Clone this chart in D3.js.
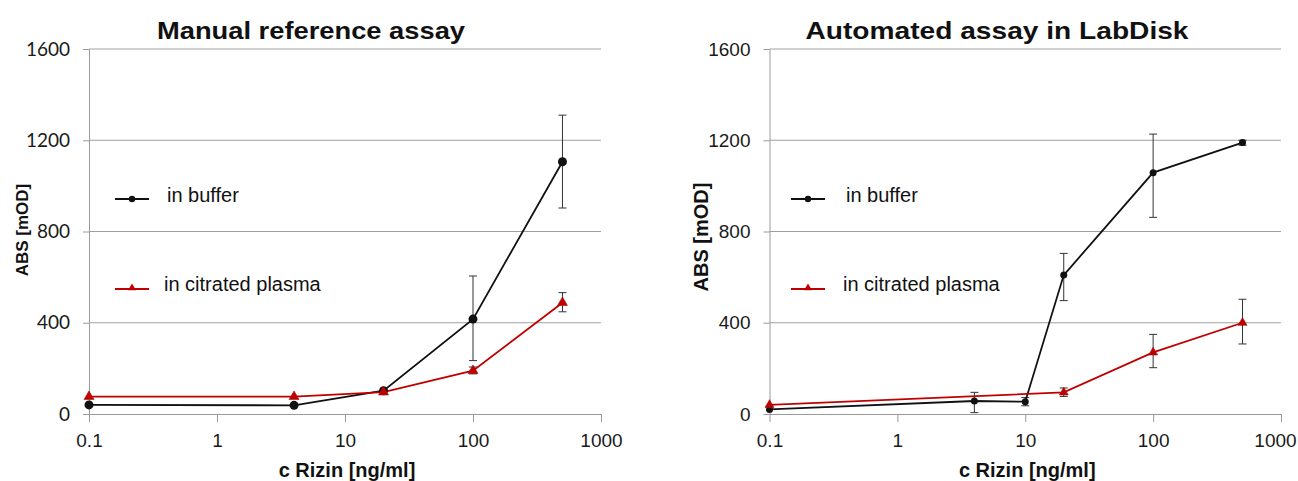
<!DOCTYPE html>
<html lang="en">
  <head>
    <meta charset="UTF-8" />
    <title>Rizin assay: manual vs LabDisk</title>
    <script src="https://d3js.org/d3.v7.min.js"></script>
    <style>
      body {
        margin: 0;
        padding: 0;
        background: #ffffff;
        font-family: "Liberation Sans", Arial, sans-serif;
      }
      svg {
        display: block;
      }
      .axis path,
      .axis line {
        stroke: #9a9a9a;
      }
    </style>
  </head>
  <body>
    <div id="chart"></div>
    <script>
      const width = 1298;
      const height = 481;

      // decade ticks / y ticks
      const xTicks = [0.1, 1, 10, 100, 1000];
      const yTicks = [0, 400, 800, 1200, 1600];

      // Manual reference assay
      const manualX = [0.1, 4, 20, 100, 500];
      const manualBuffer = [40, 38, 102, 416, 1106];
      const manualBufferLow = [null, null, null, 234, 903];
      const manualBufferHigh = [null, null, null, 605, 1310];
      const manualPlasma = [76, 76, 96, 190, 488];
      const manualPlasmaLow = [null, null, null, 176, 448];
      const manualPlasmaHigh = [null, null, null, 206, 532];

      // Automated assay in LabDisk
      const diskBufferX = [0.1, 4, 10, 20, 100, 500];
      const diskBuffer = [20, 57, 54, 609, 1058, 1190];
      const diskBufferLow = [null, 6, 36, 497, 862, 1178];
      const diskBufferHigh = [null, 95, 72, 704, 1227, 1200];
      const diskPlasmaX = [0.1, 20, 100, 500];
      const diskPlasma = [40, 95, 270, 400];
      const diskPlasmaLow = [null, 77, 203, 307];
      const diskPlasmaHigh = [null, 114, 349, 503];

      const red = "#c00000";

      function zip(xs, ys, lo, hi) {
        return xs.map((x, i) => ({ x: x, y: ys[i], lo: lo[i], hi: hi[i] }));
      }

      const panels = [
        {
          title: "Manual reference assay",
          titleX: 311,
          titleLen: 308,
          x0: 89,
          x1: 601,
          yTickFont: "Lato, sans-serif",
          yTickSize: 19,
          xTickSize: 19,
          yLabelSize: 17,
          yLabelX: 28,
          yLabelY: 230,
          legendX: 115,
          legendTextX: 167,
          circleR: 4.5,
          triSide: 10,
          lastTickShift: 0,
          buffer: zip(manualX, manualBuffer, manualBufferLow, manualBufferHigh),
          plasma: zip(manualX, manualPlasma, manualPlasmaLow, manualPlasmaHigh),
        },
        {
          title: "Automated assay in LabDisk",
          titleX: 997,
          titleLen: 383,
          x0: 769.5,
          x1: 1281,
          yTickFont: "'Liberation Sans', Arial, sans-serif",
          yTickSize: 19,
          xTickSize: 19,
          yLabelSize: 20,
          yLabelX: 708,
          yLabelY: 237,
          legendX: 791,
          legendTextX: 846,
          circleR: 3.5,
          triSide: 9,
          lastTickShift: -6,
          buffer: zip(diskBufferX, diskBuffer, diskBufferLow, diskBufferHigh),
          plasma: zip(diskPlasmaX, diskPlasma, diskPlasmaLow, diskPlasmaHigh),
        },
      ];

      const svg = d3
        .select("#chart")
        .append("svg")
        .attr("width", width)
        .attr("height", height);

      function triangle(side) {
        return d3.symbol(d3.symbolTriangle, (side * side * Math.sqrt(3)) / 4)();
      }

      function drawPanel(p) {
        const g = svg.append("g");
        const x = d3.scaleLog().domain([0.1, 1000]).range([p.x0, p.x1]);
        const y = d3.scaleLinear().domain([0, 1600]).range([414, 49]);

        // gridlines
        g.selectAll("line.grid")
          .data(yTicks.slice(1))
          .enter()
          .append("line")
          .attr("class", "grid")
          .attr("x1", p.x0)
          .attr("x2", p.x1)
          .attr("y1", (d) => y(d))
          .attr("y2", (d) => y(d))
          .attr("stroke", "#a0a0a0")
          .attr("stroke-width", 1);

        // y axis
        const yAxis = g
          .append("g")
          .attr("class", "axis")
          .attr("transform", `translate(${p.x0},0)`)
          .call(
            d3
              .axisLeft(y)
              .tickValues(yTicks)
              .tickFormat((d) => String(d))
              .tickSize(6)
              .tickSizeOuter(0)
              .tickPadding(13)
          );
        yAxis
          .selectAll("text")
          .style("font-family", p.yTickFont)
          .style("font-size", p.yTickSize + "px")
          .attr("fill", "#1a1a1a");

        // x axis
        const xAxis = g
          .append("g")
          .attr("class", "axis")
          .attr("transform", "translate(0,414)")
          .call(
            d3
              .axisBottom(x)
              .tickValues(xTicks)
              .tickFormat((d) => String(d))
              .tickSize(8)
              .tickSizeOuter(0)
              .tickPadding(12)
          );
        xAxis
          .selectAll("text")
          .style("font-family", "'Liberation Sans', Arial, sans-serif")
          .style("font-size", p.xTickSize + "px")
          .attr("fill", "#1a1a1a")
          .attr("dx", (d) => (d === 1000 ? p.lastTickShift : 0));
        yAxis.selectAll(".tick line").attr("stroke", "#9a9a9a");
        xAxis.selectAll(".tick line").attr("stroke", "#9a9a9a");

        // titles
        g.append("text")
          .attr("x", p.titleX)
          .attr("y", 39)
          .attr("text-anchor", "middle")
          .attr("textLength", p.titleLen)
          .attr("lengthAdjust", "spacingAndGlyphs")
          .style("font-size", "24px")
          .style("font-weight", "bold")
          .attr("fill", "#111")
          .text(p.title);

        g.append("text")
          .attr("x", (p.x0 + p.x1) / 2 + 2)
          .attr("y", 477)
          .attr("text-anchor", "middle")
          .style("font-size", "20px")
          .style("font-weight", "bold")
          .attr("fill", "#111")
          .text("c Rizin [ng/ml]");

        g.append("text")
          .attr("transform", `translate(${p.yLabelX},${p.yLabelY}) rotate(-90)`)
          .attr("text-anchor", "middle")
          .style("font-size", p.yLabelSize + "px")
          .style("font-weight", "bold")
          .attr("fill", "#111")
          .text("ABS [mOD]");

        const line = d3
          .line()
          .x((d) => x(d.x))
          .y((d) => y(d.y));

        // error bars
        const allErr = p.buffer.concat(p.plasma).filter((d) => d.lo != null);
        const eb = g
          .selectAll("g.err")
          .data(allErr)
          .enter()
          .append("g")
          .attr("class", "err")
          .attr("stroke", "#333")
          .attr("stroke-width", 1);
        eb.append("line")
          .attr("x1", (d) => x(d.x))
          .attr("x2", (d) => x(d.x))
          .attr("y1", (d) => y(d.lo))
          .attr("y2", (d) => y(d.hi));
        eb.append("line")
          .attr("x1", (d) => x(d.x) - 4)
          .attr("x2", (d) => x(d.x) + 4)
          .attr("y1", (d) => y(d.lo))
          .attr("y2", (d) => y(d.lo));
        eb.append("line")
          .attr("x1", (d) => x(d.x) - 4)
          .attr("x2", (d) => x(d.x) + 4)
          .attr("y1", (d) => y(d.hi))
          .attr("y2", (d) => y(d.hi));

        // series lines
        g.append("path")
          .datum(p.buffer)
          .attr("d", line)
          .attr("fill", "none")
          .attr("stroke", "#111")
          .attr("stroke-width", 1.8);
        g.append("path")
          .datum(p.plasma)
          .attr("d", line)
          .attr("fill", "none")
          .attr("stroke", red)
          .attr("stroke-width", 1.8);

        // markers
        g.selectAll("circle.buf")
          .data(p.buffer)
          .enter()
          .append("circle")
          .attr("class", "buf")
          .attr("cx", (d) => x(d.x))
          .attr("cy", (d) => y(d.y))
          .attr("r", p.circleR)
          .attr("fill", "#111");
        g.selectAll("path.tri")
          .data(p.plasma)
          .enter()
          .append("path")
          .attr("class", "tri")
          .attr("d", triangle(p.triSide))
          .attr("transform", (d) => `translate(${x(d.x)},${y(d.y)})`)
          .attr("fill", red)
          .attr("stroke", "#a01010")
          .attr("stroke-width", 0.6);

        // legend
        const lg = g.append("g");
        lg.append("line")
          .attr("x1", p.legendX)
          .attr("x2", p.legendX + 34)
          .attr("y1", 199)
          .attr("y2", 199)
          .attr("stroke", "#111")
          .attr("stroke-width", 1.8);
        lg.append("circle")
          .attr("cx", p.legendX + 17)
          .attr("cy", 199)
          .attr("r", 3.2)
          .attr("fill", "#111");
        lg.append("text")
          .attr("x", p.legendTextX)
          .attr("y", 202)
          .style("font-size", "20px")
          .attr("fill", "#111")
          .text("in buffer");

        lg.append("line")
          .attr("x1", p.legendX)
          .attr("x2", p.legendX + 34)
          .attr("y1", 289)
          .attr("y2", 289)
          .attr("stroke", red)
          .attr("stroke-width", 1.8);
        lg.append("path")
          .attr("d", triangle(8))
          .attr("transform", `translate(${p.legendX + 17},288)`)
          .attr("fill", red);
        lg.append("text")
          .attr("x", p.legendTextX - 3)
          .attr("y", 291)
          .style("font-size", "20px")
          .attr("fill", "#111")
          .text("in citrated plasma");
      }

      panels.forEach(drawPanel);
    </script>
  </body>
</html>
